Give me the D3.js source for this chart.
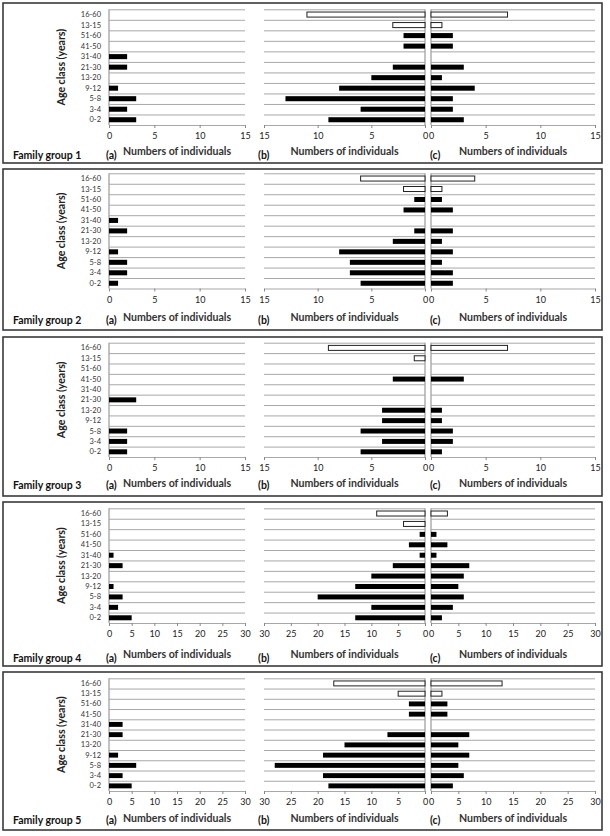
<!DOCTYPE html>
<html><head><meta charset="utf-8">
<script src="https://cdn.jsdelivr.net/npm/d3@7"></script>
<style>body{margin:0;background:#fff}svg{display:block}</style>
</head><body><svg id="chart" width="610" height="836"></svg>
<script>
// ---------- data ----------
const ageClasses = ["16-60","13-15","51-60","41-50","31-40","21-30","13-20","9-12","5-8","3-4","0-2"];
const hollowClasses = ["16-60","13-15"];
const groupNames = ["Family group 1","Family group 2","Family group 3","Family group 4","Family group 5"];
const panelLetters = ["(a)","(b)","(c)"];
const axisTitle = "Numbers of individuals";
const yTitle = "Age class (years)";
const axisMax = [15,15,15,30,30];
const ticks15 = [0,5,10,15];
const ticks30 = [0,5,10,15,20,25,30];

const g1a = [0,0,0,0,2,2,0,1,3,2,3];
const g1b = [11,3,2,2,0,3,5,8,13,6,9];
const g1c = [7,1,2,2,0,3,1,4,2,2,3];
const g2a = [0,0,0,0,1,2,0,1,2,2,1];
const g2b = [6,2,1,2,0,1,3,8,7,7,6];
const g2c = [4,1,1,2,0,2,1,2,1,2,2];
const g3a = [0,0,0,0,0,3,0,0,2,2,2];
const g3b = [9,1,0,3,0,0,4,4,6,4,6];
const g3c = [7,0,0,3,0,0,1,1,2,2,1];
const g4a = [0,0,0,0,1,3,0,1,3,2,5];
const g4b = [9,4,1,3,1,6,10,13,20,10,13];
const g4c = [3,0,1,3,1,7,6,5,6,4,2];
const g5a = [0,0,0,0,3,3,0,2,6,3,5];
const g5b = [17,5,3,3,0,7,15,19,28,19,18];
const g5c = [13,2,3,3,0,7,5,7,5,6,4];

const seriesA = [g1a,g2a,g3a,g4a,g5a];
const seriesB = [g1b,g2b,g3b,g4b,g5b];
const seriesC = [g1c,g2c,g3c,g4c,g5c];

// ---------- layout ----------
const layout = [
  {top:3,   bottom:163, plotTop:9.3,   axisY:125,   titleY:151, famY:155},
  {top:169, bottom:330, plotTop:173.3, axisY:288.5, titleY:317, famY:320},
  {top:337, bottom:496, plotTop:342.7, axisY:457,   titleY:483, famY:485},
  {top:502, bottom:666, plotTop:508.3, axisY:623,   titleY:654, famY:658},
  {top:672, bottom:830, plotTop:678.3, axisY:791,   titleY:818, famY:820}
];
const xa = [109,245], xb = [264,425], xc = [431,595];
const FONT = "Lato, 'Open Sans', sans-serif";
const textCol = "#222", gridCol = "#a8a8a8";

const svg = d3.select("#chart");

layout.forEach((L, gi) => {
  const g = svg.append("g");
  g.append("rect").attr("x",3).attr("y",L.top).attr("width",599).attr("height",L.bottom-L.top)
    .attr("fill","#fff").attr("stroke","#3a3a3a").attr("stroke-width",1.6);

  const y = d3.scaleBand().domain(ageClasses).range([L.plotTop, L.axisY]).padding(0);
  const bw = y.bandwidth();
  const barH = bw*0.48, barOff = (bw-barH)/2;
  const max = axisMax[gi];
  const tv = max === 15 ? ticks15 : ticks30;

  const scA = d3.scaleLinear().domain([0,max]).range(xa);
  const scB = d3.scaleLinear().domain([max,0]).range(xb);
  const scC = d3.scaleLinear().domain([0,max]).range(xc);
  const panels = [
    {sc:scA, data:seriesA[gi], rng:xa, zeroX:xa[0], hollow:false},
    {sc:scB, data:seriesB[gi], rng:xb, zeroX:xb[1], hollow:true},
    {sc:scC, data:seriesC[gi], rng:xc, zeroX:xc[0], hollow:true}
  ];

  panels.forEach((P, pi) => {
    g.append("g").selectAll("line").data(ageClasses).join("line")
      .attr("x1",P.rng[0]).attr("x2",P.rng[1])
      .attr("y1",d=>y(d)+0.5).attr("y2",d=>y(d)+0.5)
      .attr("stroke",gridCol).attr("stroke-width",1);
    const ax = g.append("g").attr("transform",`translate(0,${L.axisY})`)
      .call(d3.axisBottom(P.sc).tickValues(tv).tickSize(3).tickSizeOuter(0).tickPadding(5));
    ax.select(".domain").attr("stroke",gridCol).attr("stroke-width",1.2);
    ax.selectAll(".tick line").attr("stroke","#888");
    ax.selectAll(".tick text").attr("font-family",FONT).attr("font-size",9).attr("fill",textCol);
    g.append("line").attr("x1",P.zeroX).attr("x2",P.zeroX)
      .attr("y1",L.plotTop).attr("y2",L.axisY)
      .attr("stroke",gridCol).attr("stroke-width",1.4);
    const rows = ageClasses.map((c,i)=>({c, v:P.data[i]})).filter(d=>d.v>0);
    g.append("g").selectAll("rect").data(rows).join("rect")
      .attr("x",d=>Math.min(P.sc(0),P.sc(d.v)))
      .attr("width",d=>Math.abs(P.sc(d.v)-P.sc(0)))
      .attr("y",d=>y(d.c)+barOff).attr("height",barH)
      .attr("fill",d=>(P.hollow && hollowClasses.includes(d.c)) ? "#fff" : "#000")
      .attr("stroke",d=>(P.hollow && hollowClasses.includes(d.c)) ? "#222" : "none")
      .attr("stroke-width",1);
    g.append("text").attr("x",(P.rng[0]+P.rng[1])/2).attr("y",L.titleY)
      .attr("text-anchor","middle").attr("dominant-baseline","central")
      .attr("font-family",FONT).attr("font-weight",700).attr("font-size",10.6).attr("fill","#333")
      .text(axisTitle);
  });

  g.append("g").selectAll("text").data(ageClasses).join("text")
    .attr("x",101).attr("y",d=>y(d)+bw/2).attr("text-anchor","end").attr("dominant-baseline","central")
    .attr("font-family",FONT).attr("font-size",7.5).attr("fill","#333").text(d=>d);

  const cy = (L.plotTop+L.axisY)/2;
  g.append("text").attr("transform",`translate(61,${cy}) rotate(-90)`)
    .attr("text-anchor","middle").attr("dominant-baseline","central")
    .attr("font-family",FONT).attr("font-weight",700).attr("font-size",10.6).attr("fill","#222")
    .text(yTitle);

  g.append("text").attr("x",13).attr("y",L.famY).attr("dominant-baseline","central")
    .attr("font-family",FONT).attr("font-weight",700).attr("font-size",10.5).attr("fill","#111")
    .text(groupNames[gi]);
  const letterX = [106, 258, 430];
  panelLetters.forEach((t,i)=>{
    g.append("text").attr("x",letterX[i]).attr("y",L.famY).attr("dominant-baseline","central")
      .attr("font-family",FONT).attr("font-weight",700).attr("font-size",10.5).attr("fill","#111")
      .text(t);
  });
});
</script></body></html>
